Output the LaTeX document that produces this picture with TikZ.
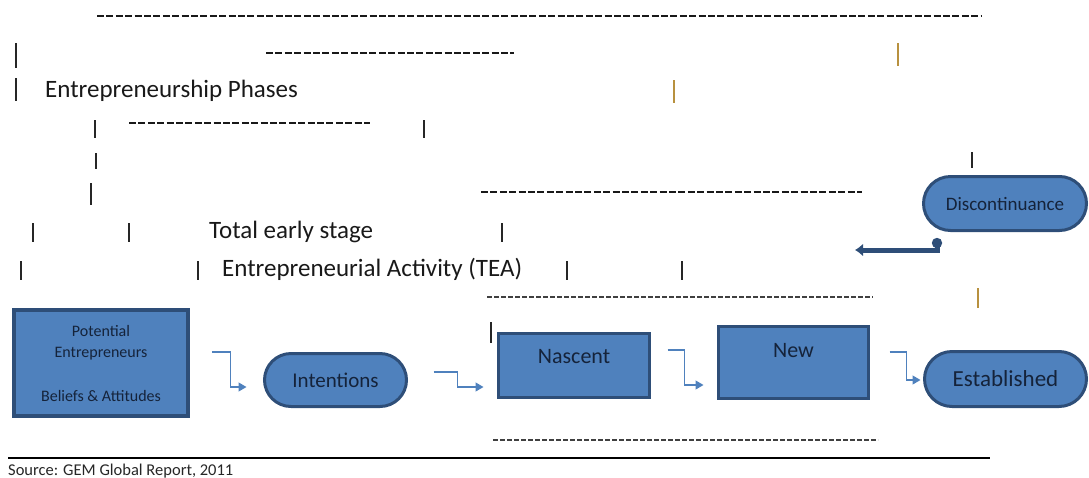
\documentclass[tikz,border=0pt]{standalone}
\usepackage{fontspec}
\setmainfont{Carlito}
\usetikzlibrary{positioning,arrows.meta,shapes.misc}
\definecolor{phasefill}{HTML}{4F81BD}
\definecolor{phasedraw}{HTML}{2E4E78}
\definecolor{phasetext}{HTML}{15233A}
\definecolor{tickgold}{HTML}{B8913F}

\begin{document}
\begin{tikzpicture}[x=1pt, y=-1pt, >=Latex]
\tikzset{
phasebox/.style={
  draw=phasedraw,
  fill=phasefill,
  line width=3pt,
  text=phasetext,
  align=center,
  inner sep=0pt
  },
stagebox/.style={phasebox, rectangle},
roundbox/.style={phasebox, rounded rectangle},
stagelabel/.style={text=phasetext, inner sep=0pt, font=\fontsize{22}{26}\selectfont},
phaselabel/.style={text=black!90, inner sep=0pt, anchor=base west, font=\fontsize{25}{30}\selectfont},
dashrule/.style={line width=2.5pt, dash pattern=on 7pt off 2.4pt, black!90},
thinrule/.style={line width=1.4pt, dash pattern=on 5pt off 2pt, black!75},
bar/.style={line width=2.5pt, black!85},
goldbar/.style={line width=1.6pt, tickgold},
flow/.style={draw=phasefill, line width=1.2pt, -{Triangle[length=8pt,width=9pt]}},
quit/.style={draw=phasedraw, line width=5pt, {Circle[length=10pt]}-{Latex[length=8pt,width=13pt]}}
}

\useasboundingbox (0,0) rectangle (1089,477);

\node[stagebox, line width=3.5pt, minimum width=174pt, minimum height=106pt,
      font=\fontsize{16}{21}\selectfont] at (101,363) (pot)
      {Potential\\Entrepreneurs\\[23pt]Beliefs \& Attitudes};
\node[roundbox, minimum width=142pt, minimum height=53pt,
      font=\fontsize{21}{25}\selectfont] at (335.5,380) (int) {Intentions};
\node[stagebox, minimum width=151pt, minimum height=64pt] at (574,365.5) (nasc) {};
\node[stagebox, minimum width=150pt, minimum height=72pt] at (793.5,362.5) (new) {};
\node[roundbox, minimum width=162pt, minimum height=55pt,
      font=\fontsize{23}{27}\selectfont] at (1005.5,379) (est) {Established};
\node[roundbox, minimum width=163pt, minimum height=54pt,
      font=\fontsize{19}{23}\selectfont] at (1005,203.5) (disc) {Discontinuance};

\node[stagelabel, below=17pt of nasc.north] (nasclabel) {Nascent};
\node[stagelabel, below=18.5pt of new.north] (newlabel) {New};

\node[phaselabel] at (45,97) (phases) {Entrepreneurship Phases};
\node[phaselabel] at (209,238) (tea1) {Total early stage};
\node[phaselabel] at (222,276) (tea2) {Entrepreneurial Activity (TEA)};

\draw[dashrule] (97,16) -- (982,16);
\draw[dashrule] (266,53) -- (514,53);
\draw[dashrule] (129,123) -- (370,123);
\draw[dashrule] (481,192) -- (862,192);
\draw[thinrule] (487,297) -- (873,297);
\draw[thinrule] (493,440) -- (878,440);

\foreach \x/\ya/\yb in {16/43/68, 16/78/101, 95/120/138, 424/120/138,
    96/153/169, 972/152/168, 91/183/205, 33/223/242, 129/223/242, 502/223/242,
    21/261/280, 198/261/280, 567/261/280, 682/261/280, 491/322/343}
  \draw[bar] (\x,\ya) -- (\x,\yb);
\foreach \x/\ya/\yb in {898/43/66, 674/80/103, 978/288/308}
  \draw[goldbar] (\x,\ya) -- (\x,\yb);

\draw[flow, shorten <=22pt, shorten >=16.5pt] ([yshift=11pt]pot.east)
  -| ([xshift=-32.5pt,yshift=-7pt]int.west) -- ([yshift=-7pt]int.west);
\draw[flow, shorten <=25.5pt, shorten >=13.5pt] ([yshift=8pt]int.east)
  -| ([xshift=-39.5pt,yshift=-21.5pt]nasc.west) -- ([yshift=-21.5pt]nasc.west);
\draw[flow, shorten <=16.5pt, shorten >=13.5pt] ([yshift=15.5pt]nasc.east)
  -| ([xshift=-32.5pt,yshift=-22.5pt]new.west) -- ([yshift=-22.5pt]new.west);
\draw[flow, shorten <=19.5pt, shorten >=2.5pt] ([yshift=10.5pt]new.east)
  -| ([xshift=-16.5pt,yshift=-1pt]est.west) -- ([yshift=-1pt]est.west);

\coordinate (tearet) at (855,250);
\draw[quit] ([xshift=-68pt,yshift=-6pt]disc.south) |- (tearet);

\draw[line width=1.5pt] (8,458) -- (990,458);
\node[anchor=base west, inner sep=0pt, text=black!85, font=\fontsize{16.5}{20}\selectfont]
  at (8,475) (source) {Source: GEM Global Report, 2011};

\end{tikzpicture}
\end{document}
